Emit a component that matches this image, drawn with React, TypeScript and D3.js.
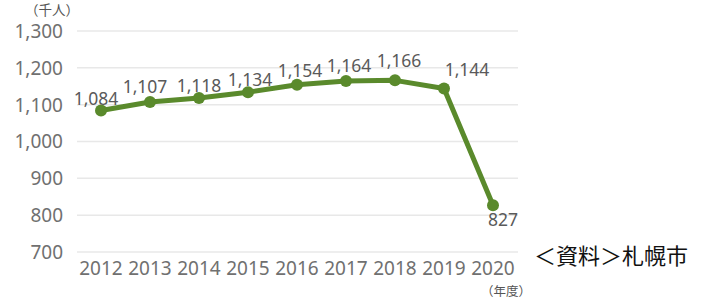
import * as d3 from 'd3';

const years = ['2012', '2013', '2014', '2015', '2016', '2017', '2018', '2019', '2020'];
const visitors = [1084, 1107, 1118, 1134, 1154, 1164, 1166, 1144, 827];
const yTicks = [700, 800, 900, 1000, 1100, 1200, 1300];

const numFont = '"Noto Sans", sans-serif';
const jpFont = '"Noto Sans CJK JP", sans-serif';
const green = '#5a8a2c';

// where each value label sits relative to its point
const labelDx = [-5, -5, 0, 2, 3, 3, 4, 23, 10];
const labelDy = [-6, -9, -6, -6, -8, -9, -13, -12, 21];

const App = () => {
  const width = 705;
  const height = 299;

  const x = d3.scalePoint().domain(years).range([101, 493]);
  const y = d3.scaleLinear().domain([700, 1300]).range([252, 31]);

  const line = d3.line<number>()
    .x((d, i) => x(years[i]) as number)
    .y(d => y(d));

  return (
    <svg width={width} height={height} style={{ position: 'absolute', left: 0, top: 0, background: '#fff' }}>
      <g>
        {yTicks.map(t => (
          <g key={t}>
            <line x1={77} x2={518} y1={y(t)} y2={y(t)} stroke="#e8e8e8" strokeWidth={1.5} />
            <text x={63} y={y(t)} dy="0.36em" textAnchor="end" fontFamily={numFont} fontSize={19} fill="#707070">
              {d3.format(',')(t)}
            </text>
          </g>
        ))}
      </g>
      <text x={25} y={15} fontFamily={jpFont} fontSize={13.5} fill="#555">（千人）</text>

      {years.map(yr => (
        <text key={yr} x={x(yr)} y={275} textAnchor="middle" fontFamily={numFont} fontSize={19} fill="#707070">
          {yr}
        </text>
      ))}
      <text x={481} y={296} fontFamily={jpFont} fontSize={12.5} fill="#555">（年度）</text>

      <path d={line(visitors) ?? ''} fill="none" stroke={green} strokeWidth={5} strokeLinejoin="round" />
      {visitors.map((v, i) => (
        <circle key={i} cx={x(years[i])} cy={y(v)} r={6} fill={green} />
      ))}
      {visitors.map((v, i) => (
        <text key={'l' + i} x={(x(years[i]) as number) + labelDx[i]} y={y(v) + labelDy[i]} textAnchor="middle"
          fontFamily={numFont} fontSize={17.5} fill="#5a5a5a">
          {d3.format(',')(v)}
        </text>
      ))}

      <text x={534} y={264} fontFamily={jpFont} fontSize={22} fill="#111">＜資料＞札幌市</text>
    </svg>
  );
};

export default App;
